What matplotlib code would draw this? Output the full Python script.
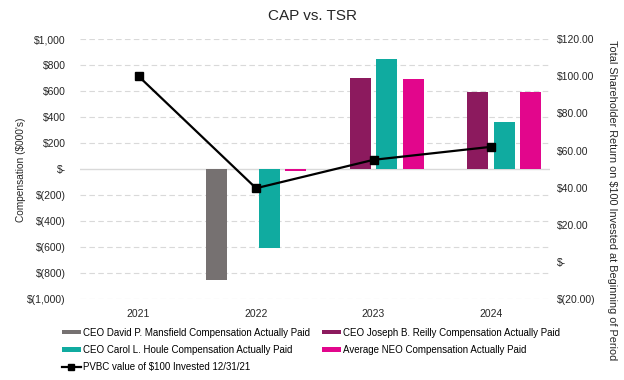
import numpy as np
import matplotlib.pyplot as plt
from matplotlib.ticker import FuncFormatter

plt.rcParams['font.family'] = ['Liberation Sans', 'DejaVu Sans']

# data
years = ["2021", "2022", "2023", "2024"]
mansfield = [np.nan, -850, np.nan, np.nan]
reilly = [np.nan, np.nan, 700, 595]
houle = [np.nan, -605, 845, 365]
neo = [np.nan, -12, 690, 590]
tsr = [100, 39.7, 55, 62]

series = [
    ("CEO David P. Mansfield Compensation Actually Paid", mansfield, "#767171"),
    ("CEO Joseph B. Reilly Compensation Actually Paid", reilly, "#8C1A5E"),
    ("CEO Carol L. Houle Compensation Actually Paid", houle, "#10ABA0"),
    ("Average NEO Compensation Actually Paid", neo, "#E2068C"),
]


def left_fmt(v, pos):
    if abs(v) < 1e-9:
        return "$-"
    if v < 0:
        return "$({:,.0f})".format(-v)
    return "${:,.0f}".format(v)


def right_fmt(v, pos):
    if abs(v) < 1e-9:
        return "$-"
    if v < 0:
        return "$({:,.2f})".format(-v)
    return "${:,.2f}".format(v)


fig = plt.figure(figsize=(6.24, 3.8), dpi=100)
ax = fig.add_axes([0.128, 0.213, 0.753, 0.684])
ax2 = ax.twinx()

x = np.arange(len(years))
w = 0.18
step = 0.225
bars = {}
for i, (name, vals, col) in enumerate(series):
    bars[name] = ax.bar(x + (i - 1.5) * step, vals, w, color=col, label=name, zorder=3)

line, = ax2.plot(x, tsr, color="black", lw=1.6, marker="s", ms=5.5,
                 label="PVBC value of $100 Invested 12/31/21", zorder=4)

ax.set_xlim(-0.5, 3.5)
ax.set_ylim(-1000, 1000)
ax.set_yticks(np.arange(-1000, 1001, 200))
ax.yaxis.set_major_formatter(FuncFormatter(left_fmt))
ax2.set_ylim(-20, 120)
ax2.set_yticks(np.arange(-20, 121, 20))
ax2.yaxis.set_major_formatter(FuncFormatter(right_fmt))
ax.set_xticks(x)
ax.set_xticklabels(years)

for yv in np.arange(-1000, 1001, 200):
    if yv == 0:
        ax.axhline(0, color="#d9d9d9", lw=1, zorder=1)
    else:
        ax.axhline(yv, color="#d9d9d9", lw=0.8, ls=(0, (5, 3)), zorder=1)

for a in (ax, ax2):
    for s in a.spines.values():
        s.set_visible(False)
    a.tick_params(length=0, labelsize=7.5, colors="#262626")
ax.tick_params(axis="y", pad=10)
ax2.tick_params(axis="y", pad=5)
ax.tick_params(axis="x", pad=7)

# axis titles placed directly in figure coords
fig.text(0.034, 0.553, "Compensation ($000's)", rotation=90, ha="center", va="center",
         fontsize=7.3, color="#262626")
fig.text(0.981, 0.474, "Total Shareholder Return on $100 Invested at Beginning of Period",
         rotation=270, ha="center", va="center", fontsize=7.8, color="#262626")

fig.suptitle("CAP vs. TSR", x=0.5, y=0.975, fontsize=11, color="#262626")

h = [bars[series[0][0]], bars[series[2][0]], line, bars[series[1][0]], bars[series[3][0]]]
labels = [series[0][0], series[2][0], line.get_label(), series[1][0], series[3][0]]
fig.legend(h, labels, ncol=2, loc="upper left", bbox_to_anchor=(0.099, 0.138),
           frameon=False, fontsize=7, handlelength=2.0, handleheight=0.35,
           handletextpad=0.2, columnspacing=1.2, labelspacing=0.75,
           borderpad=0, borderaxespad=0, markerscale=0.7)

fig.savefig("out.png", dpi=100)
